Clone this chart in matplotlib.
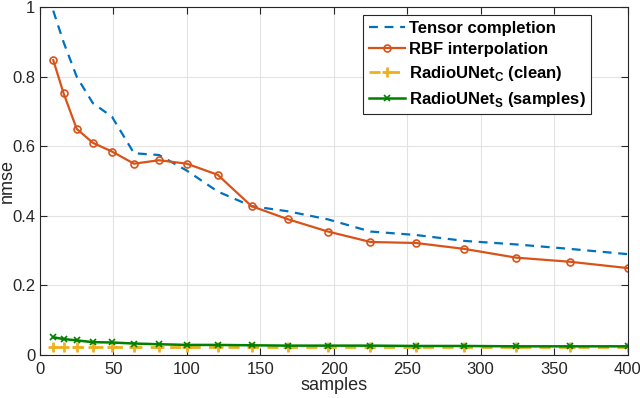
import matplotlib
matplotlib.use("Agg")
import matplotlib.pyplot as plt

samples = [9, 16, 25, 36, 49, 64, 81, 100, 121, 144, 169, 196, 225, 256, 289, 324, 361, 400]
tensor = [0.99, 0.90, 0.80, 0.724, 0.685, 0.58, 0.575, 0.53, 0.47, 0.428, 0.413, 0.39, 0.355, 0.345, 0.328, 0.318, 0.305, 0.29]
rbf = [0.848, 0.753, 0.65, 0.61, 0.585, 0.55, 0.56, 0.55, 0.518, 0.428, 0.39, 0.355, 0.325, 0.322, 0.305, 0.28, 0.268, 0.25]
unet_c = [0.022, 0.022, 0.022, 0.022, 0.022, 0.022, 0.022, 0.022, 0.022, 0.022, 0.022, 0.022, 0.022, 0.022, 0.022, 0.022, 0.022, 0.022]
unet_s = [0.051, 0.046, 0.042, 0.037, 0.036, 0.033, 0.031, 0.029, 0.029, 0.028, 0.027, 0.027, 0.027, 0.026, 0.026, 0.025, 0.025, 0.025]

plt.rcParams['font.family'] = ['Liberation Sans', 'DejaVu Sans']

fig = plt.figure(figsize=(6.4, 3.98), dpi=100)
ax = fig.add_axes([0.0625, 0.108, 0.918, 0.874])

ax.plot(samples, tensor, '--', color='#0072BD', lw=1.6, dashes=(4, 3), label='Tensor completion')
ax.plot(samples, rbf, '-o', color='#D95319', lw=1.6, ms=5, mfc='none', mew=1.2, label='RBF interpolation')
ax.plot(samples, unet_c, '--+', color='#EDB120', lw=2.0, ms=7, mew=2.0, dashes=(4, 3), label='RadioUNet$_\\mathregular{C}$ (clean)')
ax.plot(samples, unet_s, '-x', color='#008000', lw=1.8, ms=5, mew=1.2, label='RadioUNet$_\\mathregular{S}$ (samples)')

ax.set_xlim(0, 400)
ax.set_ylim(0, 1)
ax.set_xticks(range(0, 401, 50))
ax.set_yticks([0, 0.2, 0.4, 0.6, 0.8, 1])
ax.set_yticklabels(['0', '0.2', '0.4', '0.6', '0.8', '1'])
ax.grid(True, color='#e3e3e3', lw=0.8)
ax.set_axisbelow(True)
ax.tick_params(direction='in', top=True, right=True, labelsize=12, colors='#262626', length=5)
ax.tick_params(axis='x', pad=5)
for s in ax.spines.values():
    s.set_color('#262626')
    s.set_linewidth(0.8)
ax.set_xlabel('samples', fontsize=13, color='#262626', labelpad=0)
ax.set_ylabel('nmse', fontsize=13, color='#262626', labelpad=-3)

leg = ax.legend(loc='upper right', bbox_to_anchor=(0.944, 0.988),
                prop={'weight': 'bold', 'size': 12}, fancybox=False, framealpha=1,
                edgecolor='#262626', borderpad=0.35, labelspacing=0.4, handlelength=2.2,
                handletextpad=0.2, borderaxespad=0.2)
leg.get_frame().set_linewidth(0.8)

fig.savefig('out.png', dpi=100)
